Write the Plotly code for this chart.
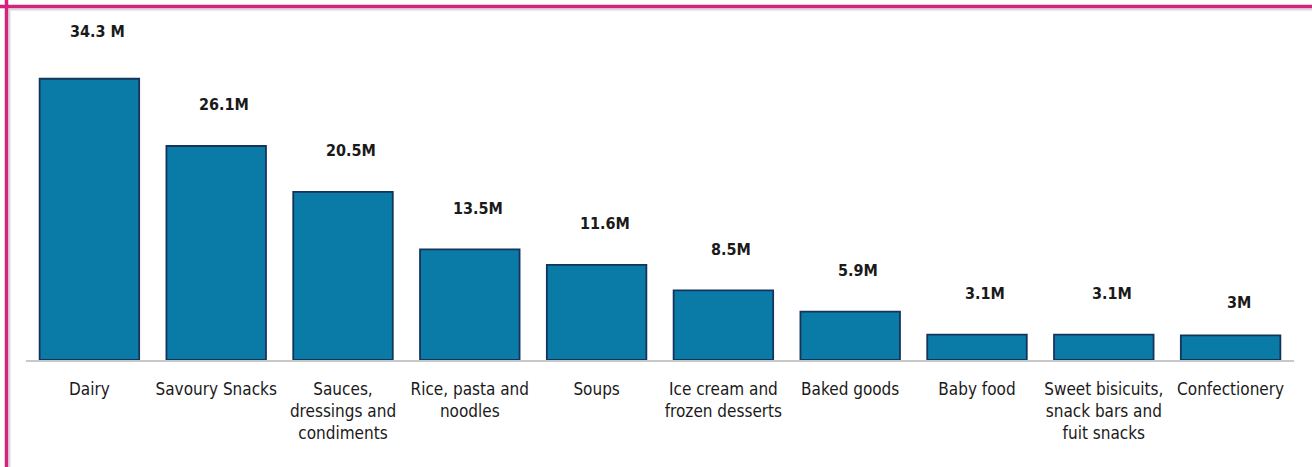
import plotly.graph_objects as go

categories = ["Dairy", "Savoury Snacks", "Sauces,<br>dressings and<br>condiments",
              "Rice, pasta and<br>noodles", "Soups", "Ice cream and<br>frozen desserts",
              "Baked goods", "Baby food", "Sweet bisicuits,<br>snack bars and<br>fuit snacks",
              "Confectionery"]
values = [34.3, 26.1, 20.5, 13.5, 11.6, 8.5, 5.9, 3.1, 3.1, 3.0]
value_labels = ["34.3 M", "26.1M", "20.5M", "13.5M", "11.6M", "8.5M", "5.9M", "3.1M", "3.1M", "3M"]

W, H = 1312, 467
L, R, T, B = 26, 18, 32, 107
FONT = "Liberation Sans Narrow, Arial Narrow, DejaVu Sans Condensed, sans-serif"

fig = go.Figure()
fig.add_trace(go.Bar(
    x=list(range(len(categories))), y=values,
    width=0.785,
    marker=dict(color="#0a7ba7", line=dict(color="#15345c", width=1.8)),
    hoverinfo="skip",
))

# label gap above bar (the reference places a couple of labels slightly differently)
label_extra = {0: 6, len(values) - 1: -8}
for i, (v, t) in enumerate(zip(values, value_labels)):
    fig.add_annotation(x=i, y=v, text="<b>" + t + "</b>", showarrow=False,
                       xshift=8, yshift=41 + label_extra.get(i, 0),
                       font=dict(family=FONT, size=16, color="#1a1a1a"))

pw = W - L - R
ph = H - T - B
def px(xp):
    return (xp - L) / pw
def py(yp):
    return (H - B - yp) / ph

# magenta frame (top and left) with faint inner shadow
fig.add_shape(type="line", xref="paper", yref="paper", x0=px(0), x1=px(W), y0=py(6.5), y1=py(6.5),
              line=dict(color="#d2237f", width=3.5), layer="above")
fig.add_shape(type="line", xref="paper", yref="paper", x0=px(6.5), x1=px(6.5), y0=py(0), y1=py(H),
              line=dict(color="#d2237f", width=3.5), layer="above")
fig.add_shape(type="line", xref="paper", yref="paper", x0=px(8.5), x1=px(W), y0=py(9.5), y1=py(9.5),
              line=dict(color="#d9d9d9", width=2), layer="below")
fig.add_shape(type="line", xref="paper", yref="paper", x0=px(9.5), x1=px(9.5), y0=py(H), y1=py(9),
              line=dict(color="#dcdcdc", width=2), layer="below")

fig.update_layout(
    width=W, height=H,
    margin=dict(l=L, r=R, t=T, b=B),
    paper_bgcolor="white", plot_bgcolor="white",
    showlegend=False,
    bargap=0.2,
    xaxis=dict(
        tickmode="array", tickvals=list(range(len(categories))), ticktext=categories,
        range=[-0.5, len(categories) - 0.5],
        showline=True, linecolor="#c8c8c8", linewidth=1.5,
        ticks="outside", ticklen=13, tickcolor="rgba(0,0,0,0)",
        tickangle=0,
        tickfont=dict(family=FONT, size=17, color="#1a1a1a"),
        showgrid=False, zeroline=False, fixedrange=True,
    ),
    yaxis=dict(range=[0, 40], visible=False, showgrid=False, zeroline=False, fixedrange=True),
)

fig.write_html("out.html")
